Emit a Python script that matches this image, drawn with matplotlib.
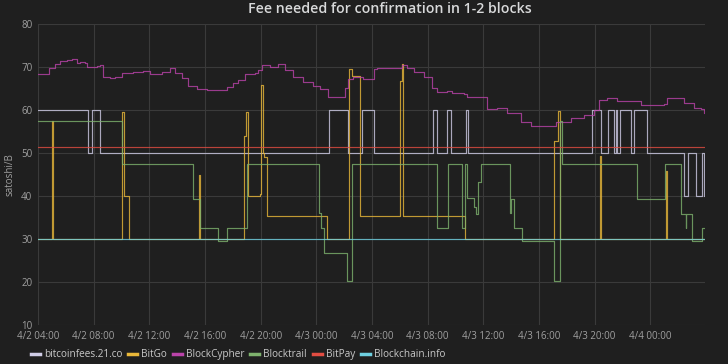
import numpy as np
import pandas as pd
import matplotlib
matplotlib.use('Agg')
import matplotlib.pyplot as plt
from matplotlib.ticker import FuncFormatter
import matplotlib.dates as mdates

plt.rcParams['font.family'] = ['Open Sans', 'DejaVu Sans']

# hours after 4/2 04:00, values in satoshi/B (step series)
start = pd.Timestamp('2016-04-02 04:00')
end_h = 47.92

fees21_h = [0, 3.57, 3.88, 4.48, 20.92, 22.25, 23.31, 24.16, 28.41, 28.70, 29.40, 29.69,
            30.73, 30.87, 39.82, 40.45, 40.93, 41.36, 41.50, 41.64, 41.83, 42.60, 42.84,
            43.73, 46.44, 46.70, 47.27, 47.70, 47.84]
fees21_v = [60, 50, 60, 50, 60, 50, 60, 50, 60, 50, 60, 50, 60, 50, 60, 50, 60, 50, 60, 50,
            60, 50, 60, 50, 40, 50, 40, 50, 40]

bitgo_h = [0, 0.98, 1.06, 6.06, 6.20, 6.56, 11.54, 11.65, 14.80, 14.94, 15.06, 15.98, 16.06,
           16.16, 16.27, 16.42, 20.74, 22.36, 22.54, 23.17, 26.03, 26.13, 26.24, 30.68,
           37.07, 37.36, 37.50, 40.42, 40.49, 45.10, 45.17]
bitgo_v = [30, 57.5, 30, 59.6, 40, 30, 44.8, 30, 54, 59.6, 40, 40.5, 65.8, 50, 49, 35.3, 30,
           69.5, 67.9, 35.3, 66.8, 70.7, 35.3, 30, 52.8, 59.8, 30, 49.2, 30, 45.8, 30]

cypher_h = [0, 0.81, 1.22, 1.58, 2.06, 2.42, 2.78, 3.02, 3.38, 3.54, 4.22, 4.45, 4.69, 5.17,
            5.53, 6.01, 6.85, 7.56, 8.05, 8.89, 9.48, 9.84, 10.32, 10.80, 11.40, 12.12,
            13.56, 14.03, 14.39, 14.87, 15.59, 15.83, 16.07, 16.67, 17.26, 17.74, 18.34,
            19.06, 19.78, 20.26, 20.86, 21.93, 22.05, 22.29, 22.65, 23.37, 24.14, 24.37,
            25.81, 26.17, 26.53, 27.01, 27.73, 28.33, 28.69, 29.40, 29.76, 30.60, 30.84,
            31.56, 32.28, 33.00, 33.71, 34.68, 35.40, 36.95, 37.19, 38.27, 39.22, 39.94,
            40.30, 40.90, 41.62, 42.58, 43.30, 44.02, 44.97, 45.21, 45.69, 46.41, 47.13,
            47.61, 47.84]
cypher_v = [68.4, 69.8, 70.6, 71.5, 71.6, 71.8, 70.9, 71.2, 71.0, 70.1, 70.2, 70.4, 67.6, 67.5,
            67.7, 68.7, 68.9, 69.1, 68.4, 68.9, 69.7, 68.5, 67.4, 65.6, 64.8, 64.7,
            65.3, 66.2, 67.0, 68.4, 68.5, 69.3, 70.5, 70.1, 70.6, 69.3, 67.6,
            66.6, 65.6, 64.8, 63.1, 63.1, 65.1, 67.2, 67.6, 67.2, 69.5, 69.7,
            69.7, 70.5, 69.7, 68.9, 67.7, 65.1, 64.1, 64.5, 63.9, 63.7, 63.1,
            63.1, 60.2, 60.4, 59.2, 57.3, 56.3, 56.3, 57.3, 58.1, 58.8, 60.0,
            62.3, 62.7, 62.1, 62.0, 61.2, 61.2, 61.4, 62.9, 62.9, 61.6, 60.4,
            60.2, 59.4]

trail_h = [0, 6.03, 11.17, 11.64, 12.95, 13.60, 15.01, 20.21, 20.37, 20.58, 22.23, 22.56,
           28.64, 29.48, 30.48, 30.68, 30.82, 31.36, 31.44, 31.63, 31.82, 33.91, 33.96,
           34.22, 34.79, 37.07, 37.50, 37.66, 43.01, 45.04, 46.21, 46.53, 46.59, 47.03, 47.75]
trail_v = [57.5, 47.5, 39.3, 32.5, 29.5, 32.5, 47.5, 36, 32.5, 26.8, 20.2, 47.5,
           32.5, 47.5, 32.5, 47.5, 39.5, 37.5, 35.8, 43.3, 47.5, 36, 39.3,
           32.5, 29.5, 20.2, 57.5, 47.5, 39.3, 47.5, 35.8, 32.5, 35.8, 29.5, 32.5]

bitpay_h = [0]
bitpay_v = [51.5]
bcinfo_h = [0]
bcinfo_v = [30]

names = ['bitcoinfees.21.co', 'BitGo', 'BlockCypher', 'Blocktrail', 'BitPay', 'Blockchain.info']
colors = ['#cfcce6', '#eab839', '#ba43a9', '#7eb26d', '#e24d42', '#6ed0e0']
series = [(fees21_h, fees21_v), (bitgo_h, bitgo_v), (cypher_h, cypher_v),
          (trail_h, trail_v), (bitpay_h, bitpay_v), (bcinfo_h, bcinfo_v)]

bg = '#1f1f1f'
fig = plt.figure(figsize=(7.28, 3.64), dpi=100, facecolor=bg)
ax = fig.add_axes([0.0522, 0.107, 0.916, 0.827], facecolor=bg)

for (h, v), name, c in zip(series, names, colors):
    t = start + pd.to_timedelta(np.append(h, end_h), unit='h')
    ax.plot(t, np.append(v, v[-1]), drawstyle='steps-post', color=c, lw=0.85,
            alpha=0.8, label=name)

ax.set_xlim(start, start + pd.Timedelta(hours=end_h))
ax.set_ylim(10, 80)
ax.set_yticks(range(10, 81, 10))
ax.xaxis.set_major_locator(mdates.HourLocator(byhour=[0, 4, 8, 12, 16, 20]))
ax.xaxis.set_major_formatter(FuncFormatter(
    lambda x, p: '{d.month}/{d.day} {d:%H:%M}'.format(d=mdates.num2date(x))))

for s in ax.spines.values():
    s.set_visible(False)
ax.grid(True, color='#3a3a3a', lw=0.8)
ax.set_axisbelow(True)
ax.tick_params(length=0, labelsize=7, colors='#a0a0a0', pad=4)
ax.set_ylabel('satoshi/B', color='#a0a0a0', fontsize=7, labelpad=4)

fig.text(0.535, 0.975, 'Fee needed for confirmation in 1-2 blocks', ha='center', va='center',
         color='#d8d9da', fontsize=10.2, fontweight='semibold')

fig.legend(loc='lower left', bbox_to_anchor=(0.03, -0.015), ncol=6, frameon=False,
           fontsize=7.2, labelcolor='#c8c8c8', handlelength=0.9, handletextpad=0.4,
           columnspacing=0.6)
for line in fig.legends[0].get_lines():
    line.set_linewidth(2.5)
    line.set_alpha(1)

fig.savefig('out.png', dpi=100, facecolor=bg)
